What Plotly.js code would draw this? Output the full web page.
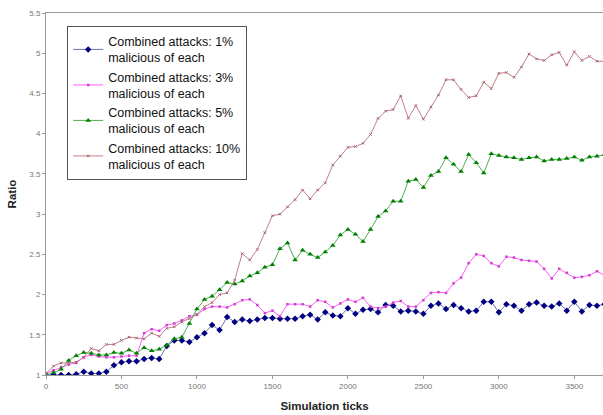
<!DOCTYPE html>
<html>
<head>
<meta charset="utf-8">
<script src="https://cdn.plot.ly/plotly-3.0.1.min.js"></script>
<style>
  html, body { margin: 0; padding: 0; background: #fff; }
  #chart { width: 603px; height: 415px; }
</style>
</head>
<body>
<div id="chart"></div>
<script>
// simulation ticks, one sample every 50 ticks
var ticks = [];
for (var t = 0; t <= 3700; t += 50) ticks.push(t);

var pct1 = [1.0, 1.0, 1.0, 1.0, 1.01, 1.04, 1.02, 1.02, 1.04, 1.12,
    1.16, 1.17, 1.17, 1.2, 1.21, 1.2, 1.36, 1.43, 1.43, 1.41,
    1.47, 1.52, 1.62, 1.56, 1.72, 1.66, 1.69, 1.67, 1.69, 1.71,
    1.71, 1.70, 1.70, 1.70, 1.73, 1.75, 1.69, 1.78, 1.74, 1.73,
    1.83, 1.76, 1.81, 1.82, 1.78, 1.87, 1.86, 1.79, 1.80, 1.79,
    1.76, 1.86, 1.89, 1.82, 1.87, 1.83, 1.79, 1.80, 1.91, 1.91,
    1.78, 1.88, 1.86, 1.80, 1.88, 1.90, 1.86, 1.85, 1.89, 1.80,
    1.91, 1.79, 1.87, 1.86, 1.88];

var pct3 = [1.02, 1.06, 1.10, 1.13, 1.15, 1.22, 1.25, 1.23, 1.22, 1.22,
    1.23, 1.24, 1.24, 1.52, 1.57, 1.55, 1.62, 1.64, 1.68, 1.73,
    1.75, 1.82, 1.85, 1.85, 1.84, 1.88, 1.93, 1.94, 1.87, 1.77,
    1.80, 1.73, 1.88, 1.88, 1.88, 1.85, 1.93, 1.91, 1.84, 1.89,
    1.94, 1.91, 1.96, 1.85, 1.83, 1.85, 1.90, 1.92, 1.85, 1.85,
    1.93, 2.02, 2.03, 2.02, 2.14, 2.21, 2.39, 2.50, 2.48, 2.39,
    2.35, 2.47, 2.46, 2.43, 2.42, 2.41, 2.32, 2.20, 2.32, 2.27,
    2.21, 2.22, 2.24, 2.29, 2.24];

var pct5 = [1.0, 1.03, 1.07, 1.18, 1.24, 1.28, 1.27, 1.25, 1.25, 1.28,
    1.27, 1.31, 1.27, 1.34, 1.30, 1.32, 1.37, 1.45, 1.47, 1.64,
    1.82, 1.94, 1.98, 2.06, 2.15, 2.13, 2.17, 2.23, 2.27, 2.34,
    2.37, 2.57, 2.64, 2.43, 2.55, 2.50, 2.46, 2.53, 2.61, 2.74,
    2.81, 2.75, 2.66, 2.81, 2.97, 3.04, 3.16, 3.16, 3.41, 3.43,
    3.33, 3.48, 3.53, 3.70, 3.62, 3.53, 3.74, 3.64, 3.51, 3.75,
    3.73, 3.71, 3.70, 3.68, 3.70, 3.71, 3.66, 3.68, 3.68, 3.69,
    3.71, 3.67, 3.71, 3.72, 3.74];

var pct10 = [1.02, 1.11, 1.15, 1.15, 1.16, 1.22, 1.33, 1.30, 1.38, 1.38,
    1.43, 1.47, 1.46, 1.45, 1.52, 1.48, 1.58, 1.60, 1.66, 1.70,
    1.75, 1.85, 1.90, 2.00, 2.02, 2.18, 2.51, 2.43, 2.56, 2.77,
    2.98, 3.00, 3.09, 3.18, 3.30, 3.19, 3.30, 3.39, 3.61, 3.72,
    3.83, 3.84, 3.88, 3.99, 4.19, 4.28, 4.30, 4.47, 4.19, 4.35,
    4.18, 4.33, 4.48, 4.67, 4.67, 4.55, 4.45, 4.47, 4.64, 4.56,
    4.75, 4.76, 4.70, 4.83, 4.99, 4.93, 4.91, 4.98, 5.01, 4.85,
    5.02, 4.91, 4.96, 4.90, 4.90];

var names = ["Combined attacks: 1%<br>malicious of each",
             "Combined attacks: 3%<br>malicious of each",
             "Combined attacks: 5%<br>malicious of each",
             "Combined attacks: 10%<br>malicious of each"];

var xTicks = [0, 500, 1000, 1500, 2000, 2500, 3000, 3500];
var yTicks = [1, 1.5, 2, 2.5, 3, 3.5, 4, 4.5, 5, 5.5];

var trace1 = {
    x: ticks, y: pct1, name: names[0], type: 'scatter', mode: 'lines+markers',
    line: { color: '#6a74b4', width: 1 },
    marker: { symbol: 'diamond', size: 5, color: '#000080' }
};
var trace2 = {
    x: ticks, y: pct3, name: names[1], type: 'scatter', mode: 'lines+markers',
    line: { color: '#ff5cff', width: 1 },
    marker: { symbol: 'square', size: 2.5, color: '#d040c8' }
};
var trace3 = {
    x: ticks, y: pct5, name: names[2], type: 'scatter', mode: 'lines+markers',
    line: { color: '#4fae4f', width: 1 },
    marker: { symbol: 'triangle-up', size: 5, color: '#008000' }
};
var trace4 = {
    x: ticks, y: pct10, name: names[3], type: 'scatter', mode: 'lines+markers',
    line: { color: '#c08088', width: 1 },
    marker: { symbol: 'x-thin', size: 2.5, color: '#a86070', line: { width: 1, color: '#a86070' } }
};

var layout = {
    width: 603, height: 415,
    margin: { l: 46, r: 0, t: 13, b: 40 },
    paper_bgcolor: '#fff', plot_bgcolor: '#fff',
    font: { family: 'Liberation Sans, Arial, sans-serif', color: '#222' },
    showlegend: true,
    legend: {
        x: 0.038, y: 0.965, xanchor: 'left', yanchor: 'top',
        bgcolor: '#fff', bordercolor: '#555', borderwidth: 1,
        font: { size: 12.5, color: '#111' },
        itemwidth: 30,
        tracegroupgap: 0
    },
    xaxis: {
        range: [0, 3690], tickvals: xTicks, ticktext: xTicks.map(String),
        showgrid: false, zeroline: false,
        showline: true, linecolor: '#999', linewidth: 1, mirror: true,
        ticks: 'outside', ticklen: 3, tickcolor: '#999',
        tickfont: { size: 8, color: '#777' },
        title: { text: '<b>Simulation ticks</b>', font: { size: 11.5, color: '#222' }, standoff: 12 }
    },
    yaxis: {
        range: [1, 5.5], tickvals: yTicks, ticktext: yTicks.map(String),
        showgrid: false, zeroline: false,
        showline: true, linecolor: '#999', linewidth: 1,
        ticks: 'outside', ticklen: 3, tickcolor: '#999',
        tickfont: { size: 8, color: '#777' },
        title: { text: '<b>Ratio</b>', font: { size: 11.5, color: '#222' }, standoff: 10 }
    }
};

Plotly.newPlot('chart', [trace1, trace2, trace3, trace4], layout, { displayModeBar: false, staticPlot: true });
</script>
</body>
</html>
